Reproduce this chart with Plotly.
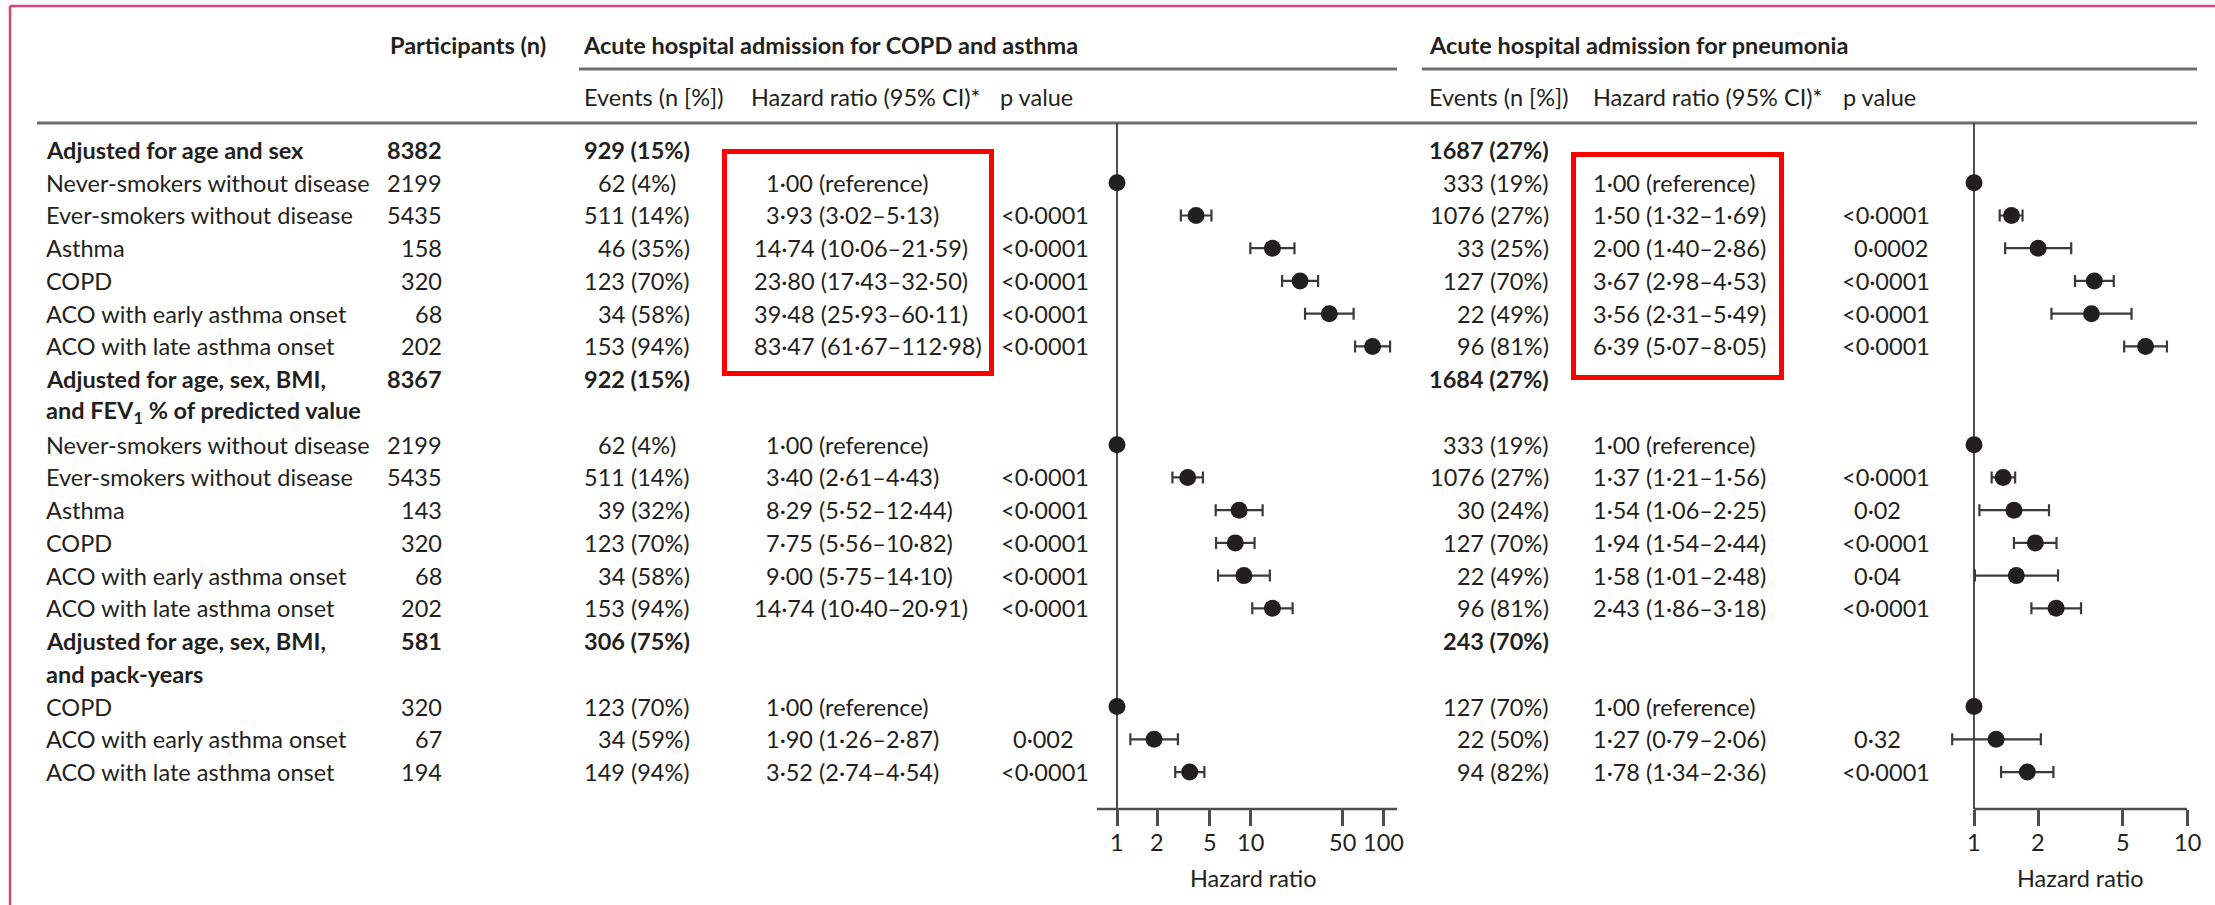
import math
import plotly.graph_objects as go

# ---------------------------------------------------------------- data
CATS_ALL = [
    "Never-smokers without disease",
    "Ever-smokers without disease",
    "Asthma",
    "COPD",
    "ACO with early asthma onset",
    "ACO with late asthma onset",
]
CATS_PACK = ["COPD", "ACO with early asthma onset", "ACO with late asthma onset"]

GROUP_TITLES = [
    ["Adjusted for age and sex"],
    ["Adjusted for age, sex, BMI,", "and FEV<sub>1</sub> % of predicted value"],
    ["Adjusted for age, sex, BMI,", "and pack-years"],
]
GROUP_N = [8382, 8367, 581]
GROUP_EV_COPD = [929, 922, 306]
GROUP_PCT_COPD = [15, 15, 75]
GROUP_EV_PNEU = [1687, 1684, 243]
GROUP_PCT_PNEU = [27, 27, 70]

# block 1: adjusted for age and sex
N_1 = [2199, 5435, 158, 320, 68, 202]
EV_COPD_1 = [62, 511, 46, 123, 34, 153]
PCT_COPD_1 = [4, 14, 35, 70, 58, 94]
HR_COPD_1 = [1.00, 3.93, 14.74, 23.80, 39.48, 83.47]
LO_COPD_1 = [None, 3.02, 10.06, 17.43, 25.93, 61.67]
HI_COPD_1 = [None, 5.13, 21.59, 32.50, 60.11, 112.98]
P_COPD_1 = [None, "<0·0001", "<0·0001", "<0·0001", "<0·0001", "<0·0001"]
EV_PNEU_1 = [333, 1076, 33, 127, 22, 96]
PCT_PNEU_1 = [19, 27, 25, 70, 49, 81]
HR_PNEU_1 = [1.00, 1.50, 2.00, 3.67, 3.56, 6.39]
LO_PNEU_1 = [None, 1.32, 1.40, 2.98, 2.31, 5.07]
HI_PNEU_1 = [None, 1.69, 2.86, 4.53, 5.49, 8.05]
P_PNEU_1 = [None, "<0·0001", "0·0002", "<0·0001", "<0·0001", "<0·0001"]

# block 2: adjusted for age, sex, BMI and FEV1 % predicted
N_2 = [2199, 5435, 143, 320, 68, 202]
EV_COPD_2 = [62, 511, 39, 123, 34, 153]
PCT_COPD_2 = [4, 14, 32, 70, 58, 94]
HR_COPD_2 = [1.00, 3.40, 8.29, 7.75, 9.00, 14.74]
LO_COPD_2 = [None, 2.61, 5.52, 5.56, 5.75, 10.40]
HI_COPD_2 = [None, 4.43, 12.44, 10.82, 14.10, 20.91]
P_COPD_2 = [None, "<0·0001", "<0·0001", "<0·0001", "<0·0001", "<0·0001"]
EV_PNEU_2 = [333, 1076, 30, 127, 22, 96]
PCT_PNEU_2 = [19, 27, 24, 70, 49, 81]
HR_PNEU_2 = [1.00, 1.37, 1.54, 1.94, 1.58, 2.43]
LO_PNEU_2 = [None, 1.21, 1.06, 1.54, 1.01, 1.86]
HI_PNEU_2 = [None, 1.56, 2.25, 2.44, 2.48, 3.18]
P_PNEU_2 = [None, "<0·0001", "0·02", "<0·0001", "0·04", "<0·0001"]

# block 3: adjusted for age, sex, BMI and pack-years
N_3 = [320, 67, 194]
EV_COPD_3 = [123, 34, 149]
PCT_COPD_3 = [70, 59, 94]
HR_COPD_3 = [1.00, 1.90, 3.52]
LO_COPD_3 = [None, 1.26, 2.74]
HI_COPD_3 = [None, 2.87, 4.54]
P_COPD_3 = [None, "0·002", "<0·0001"]
EV_PNEU_3 = [127, 22, 94]
PCT_PNEU_3 = [70, 50, 82]
HR_PNEU_3 = [1.00, 1.27, 1.78]
LO_PNEU_3 = [None, 0.79, 1.34]
HI_PNEU_3 = [None, 2.06, 2.36]
P_PNEU_3 = [None, "0·32", "<0·0001"]

TICKS_COPD = [1, 2, 5, 10, 50, 100]
TICKS_PNEU = [1, 2, 5, 10]

BLOCKS = [
    (CATS_ALL, N_1, EV_COPD_1, PCT_COPD_1, HR_COPD_1, LO_COPD_1, HI_COPD_1, P_COPD_1,
     EV_PNEU_1, PCT_PNEU_1, HR_PNEU_1, LO_PNEU_1, HI_PNEU_1, P_PNEU_1),
    (CATS_ALL, N_2, EV_COPD_2, PCT_COPD_2, HR_COPD_2, LO_COPD_2, HI_COPD_2, P_COPD_2,
     EV_PNEU_2, PCT_PNEU_2, HR_PNEU_2, LO_PNEU_2, HI_PNEU_2, P_PNEU_2),
    (CATS_PACK, N_3, EV_COPD_3, PCT_COPD_3, HR_COPD_3, LO_COPD_3, HI_COPD_3, P_COPD_3,
     EV_PNEU_3, PCT_PNEU_3, HR_PNEU_3, LO_PNEU_3, HI_PNEU_3, P_PNEU_3),
]

# ---------------------------------------------------------------- layout constants
W, H = 2215, 905
FONT = "Lato, 'Liberation Sans', Arial, sans-serif"
FS = 23.5
INK = "#231f20"
RULE = "#6d6e70"
AXIS_INK = "#4d4d4f"

ROW0, ROW_H = 150.0, 32.74        # pixel centre of first row, row pitch
AXIS_PY = 809                     # pixel row of the hazard-ratio axes
TICKLABEL_PY, AXTITLE_PY = 842, 878
HEAD_PY, SUB_PY = 45, 97
DIGIT_W, LT_W = 12, 12

# pixel columns
X_LABEL, X_N = 44, 444
X_EV_L, X_HR_L, X_P_L = 692, 764, 1011
X_EV_R, X_HR_R, X_P_R = 1551, 1591, 1852

# forest axes: pixel of HR=1 and pixels per decade
L_ONE, L_DEC, L_DOM = 1117, 133, (1090, 1400)
R_ONE, R_DEC, R_DOM = 1974, 213, (1940, 2200)


def xp(px):
    return px / W


def yp(py):
    return 1 - py / H


def dec(v):
    return f"{v:.2f}".replace(".", "·")


def events(n, pct):
    s = f"{n} ({pct}%)"
    return s + "\u2007" if pct < 10 else s


def hr_text(hr, lo, hi):
    if lo is None:
        return f"{dec(hr)} (reference)"
    return f"{dec(hr)} ({dec(lo)}–{dec(hi)})"


def esc(s):
    return s.replace("<", "&lt;")


annotations = []


def text(x_px, y, s, anchor="left", bold=False, yref="y", size=FS):
    annotations.append(dict(
        x=xp(x_px), xref="paper", y=y, yref=yref,
        text=f"<b>{s}</b>" if bold else s,
        xanchor=anchor, yanchor="middle", showarrow=False,
        font=dict(family=FONT, size=size, color=INK),
    ))


# ---------------------------------------------------------------- table body
pts = {"copd": ([], [], [], []), "pneu": ([], [], [], [])}   # x, y, lo, hi
refs = {"copd": ([], []), "pneu": ([], [])}

row = 0
for b, blk in enumerate(BLOCKS):
    (cats, ns, ev_c, pc_c, hr_c, lo_c, hi_c, p_c,
     ev_p, pc_p, hr_p, lo_p, hi_p, p_p) = blk
    title = GROUP_TITLES[b]
    text(X_LABEL, row, title[0], bold=True)
    text(X_N, row, str(GROUP_N[b]), anchor="right", bold=True)
    text(X_EV_L, row, events(GROUP_EV_COPD[b], GROUP_PCT_COPD[b]), anchor="right", bold=True)
    text(X_EV_R, row, events(GROUP_EV_PNEU[b], GROUP_PCT_PNEU[b]), anchor="right", bold=True)
    for k, line in enumerate(title[1:], start=1):
        text(X_LABEL, row + k, line, bold=True)
    row += len(title)

    for j, cat in enumerate(cats):
        text(X_LABEL, row, cat)
        text(X_N, row, str(ns[j]), anchor="right")
        for side, ev, pc, hr, lo, hi, pv, x_ev, x_hr, x_p in (
            ("copd", ev_c, pc_c, hr_c, lo_c, hi_c, p_c, X_EV_L, X_HR_L, X_P_L),
            ("pneu", ev_p, pc_p, hr_p, lo_p, hi_p, p_p, X_EV_R, X_HR_R, X_P_R),
        ):
            text(x_ev, row, events(ev[j], pc[j]), anchor="right")
            n_int = len(str(int(hr[j])))
            text(x_hr - (n_int - 1) * DIGIT_W, row, hr_text(hr[j], lo[j], hi[j]))
            if pv[j] is not None:
                shift = LT_W if pv[j].startswith("<") else 0
                text(x_p - shift, row, esc(pv[j]))
            if lo[j] is None:
                refs[side][0].append(hr[j])
                refs[side][1].append(row)
            else:
                pts[side][0].append(hr[j])
                pts[side][1].append(row)
                pts[side][2].append(lo[j])
                pts[side][3].append(hi[j])
        row += 1

# ---------------------------------------------------------------- headers
text(388, yp(HEAD_PY), "Participants (n)", bold=True, yref="paper")
text(581, yp(HEAD_PY), "Acute hospital admission for COPD and asthma", bold=True, yref="paper")
text(1427, yp(HEAD_PY), "Acute hospital admission for pneumonia", bold=True, yref="paper")
for x0, s in ((582, "Events (n [%])"), (749, "Hazard ratio (95% CI)*"), (998, "p value"),
              (1427, "Events (n [%])"), (1591, "Hazard ratio (95% CI)*"), (1841, "p value")):
    text(x0, yp(SUB_PY), s, yref="paper")

# axis tick labels (log axes take log10 positions for annotations) and titles
for xa, ticks in (("x", TICKS_COPD), ("x2", TICKS_PNEU)):
    for t in ticks:
        annotations.append(dict(
            x=math.log10(t), xref=xa, y=yp(TICKLABEL_PY), yref="paper",
            text=str(t), xanchor="center", yanchor="middle", showarrow=False,
            font=dict(family=FONT, size=FS, color=INK),
        ))
text(1253, yp(AXTITLE_PY), "Hazard ratio", anchor="center", yref="paper")
text(2080, yp(AXTITLE_PY), "Hazard ratio", anchor="center", yref="paper")

# ---------------------------------------------------------------- marks
fig = go.Figure()
for side, xa in (("copd", "x"), ("pneu", "x2")):
    x, y, lo, hi = pts[side]
    fig.add_trace(go.Scatter(
        x=x, y=y, xaxis=xa, yaxis="y", mode="markers", cliponaxis=False,
        marker=dict(size=17, color=INK),
        error_x=dict(type="data", symmetric=False,
                     array=[h - v for h, v in zip(hi, x)],
                     arrayminus=[v - l for v, l in zip(x, lo)],
                     color="#3a3a3a", thickness=2.2, width=6),
        hoverinfo="skip", showlegend=False,
    ))
    fig.add_trace(go.Scatter(
        x=refs[side][0], y=refs[side][1], xaxis=xa, yaxis="y", mode="markers",
        cliponaxis=False, marker=dict(size=17, color=INK),
        hoverinfo="skip", showlegend=False,
    ))


# ---------------------------------------------------------------- rules and frames
def line(x0, y0, x1, y1, color, width):
    return dict(type="line", xref="paper", yref="paper",
                x0=xp(x0), y0=yp(y0), x1=xp(x1), y1=yp(y1),
                line=dict(color=color, width=width), layer="below")


shapes = [
    # page frame
    line(10, 6, W + 5, 6, "#d8437a", 2.5),
    line(10, 6, 10, H + 5, "#d8437a", 2.5),
    # column header rules
    line(579, 69, 1397, 69, RULE, 3),
    line(1422, 69, 2197, 69, RULE, 3),
    line(37, 123, 2197, 123, RULE, 3),
    # reference lines at HR = 1
    line(L_ONE, 123, L_ONE, AXIS_PY, AXIS_INK, 2),
    line(R_ONE, 123, R_ONE, AXIS_PY, AXIS_INK, 2),
    # axis baselines
    line(1097, AXIS_PY, 1397, AXIS_PY, AXIS_INK, 2.5),
    line(R_ONE, AXIS_PY, R_ONE + R_DEC, AXIS_PY, AXIS_INK, 2.5),
]
# highlighted hazard-ratio columns
for x0, y0, x1, y1 in ((724.5, 151.5, 991.5, 373.5), (1573.5, 154.5, 1781.5, 377.5)):
    shapes.append(dict(type="rect", xref="paper", yref="paper",
                       x0=xp(x0), y0=yp(y0), x1=xp(x1), y1=yp(y1),
                       line=dict(color="#ff0000", width=5), layer="above"))

y_top = -ROW0 / ROW_H
y_bot = (AXIS_PY - ROW0) / ROW_H


def hr_axis(one, per_dec, dom, ticks):
    return dict(
        type="log",
        domain=[xp(dom[0]), xp(dom[1])],
        range=[(dom[0] - one) / per_dec, (dom[1] - one) / per_dec],
        anchor="y", showgrid=False, zeroline=False, showline=False,
        tickvals=ticks, showticklabels=False,
        ticks="outside", ticklen=16, tickwidth=2.5, tickcolor=AXIS_INK,
        fixedrange=True,
    )


fig.update_layout(
    width=W, height=H,
    margin=dict(l=0, r=0, t=0, b=0),
    paper_bgcolor="white", plot_bgcolor="rgba(0,0,0,0)",
    xaxis=hr_axis(L_ONE, L_DEC, L_DOM, TICKS_COPD),
    xaxis2=hr_axis(R_ONE, R_DEC, R_DOM, TICKS_PNEU),
    yaxis=dict(domain=[1 - AXIS_PY / H, 1], range=[y_bot, y_top],
               visible=False, fixedrange=True),
    annotations=annotations,
    shapes=shapes,
    font=dict(family=FONT, size=FS, color=INK),
)

fig.write_html("out.html", config={"displayModeBar": False})
